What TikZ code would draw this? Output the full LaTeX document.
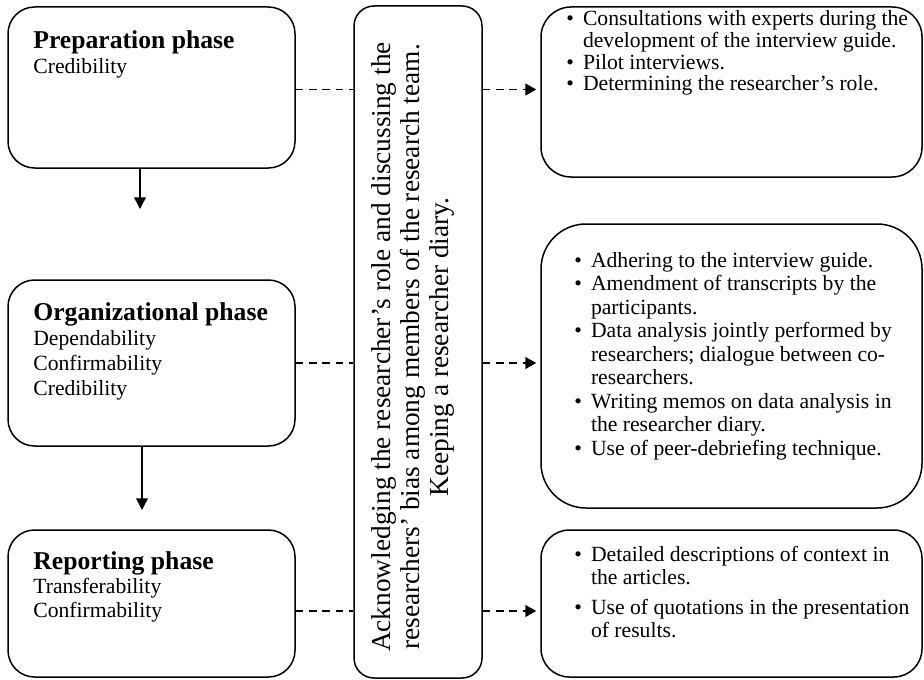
\documentclass[tikz,border=0pt]{standalone}
\usepackage{fontspec}
\setmainfont{Liberation Serif}
\usetikzlibrary{positioning,arrows.meta}

\newcommand{\itm}{\makebox[10pt][l]{\textbullet}}
\newcommand{\cnt}{\hspace*{10pt}}

\begin{document}
\begin{tikzpicture}[x=0.6pt, y=-0.6pt,
  box/.style={draw, line width=0.9pt, rounded corners=#1, inner sep=0},
  box/.default=16pt,
  link/.style={line width=1.1pt, dash pattern=on 4.5pt off 3.5pt},
  txt/.style={anchor=north west, align=left, inner sep=0, font=\fontsize{13}{14}\selectfont}]

  % Define unit
  \def\px{0.6pt}

  \useasboundingbox (0,0) rectangle (924,679);

  % Phase boxes
  \node[box, minimum width=287*\px, minimum height=161*\px] (prep) at (151.5,87.5) {};
  \node[box, minimum width=287*\px, minimum height=166*\px] (org) at (151.5,363) {};
  \node[box, minimum width=287*\px, minimum height=147*\px] (rep) at (151.5,603.5) {};

  \node[txt, font=\fontsize{13}{15}\selectfont] (prepTxt) at (33,30) {{\fontsize{15.4}{15}\selectfont\bfseries Preparation phase}\\Credibility};
  \node[txt, font=\fontsize{13}{15}\selectfont] (orgTxt) at (33,302) {{\fontsize{15.4}{15}\selectfont\bfseries Organizational phase}\\Dependability\\Confirmability\\Credibility};
  \node[txt, font=\fontsize{13}{14.5}\selectfont] (repTxt) at (33,551) {{\fontsize{15.4}{15}\selectfont\bfseries Reporting phase}\\Transferability\\Confirmability};

  % Middle box
  \node[box=12pt, minimum width=128*\px, minimum height=672*\px] (ack) at (418,342) {};
  \node[rotate=90, align=center, inner sep=0, font=\fontsize{16.4}{17.2}\selectfont] (ackTxt) at (413,347)
    {Acknowledging the researcher's role and discussing the\\
     researchers' bias among members of the research team.\\
     Keeping a researcher diary.};

  % Strategy boxes
  \node[box=18pt, minimum width=381*\px, minimum height=170*\px] (prepList) at (731.5,92) {};
  \node[box=27pt, minimum width=381*\px, minimum height=284*\px] (orgList) at (731.5,366) {};
  \node[box=17pt, minimum width=381*\px, minimum height=147*\px] (repList) at (731.5,603.5) {};

  \node[txt, font=\fontsize{13}{13.1}\selectfont] (prepItems) at (566,10)
    {\itm Consultations with experts during the\\
     \cnt development of the interview guide.\\
     \itm Pilot interviews.\\
     \itm Determining the researcher's role.};
  \node[txt, font=\fontsize{13}{14.1}\selectfont] (orgItems) at (574,252)
    {\itm Adhering to the interview guide.\\
     \itm Amendment of transcripts by the\\
     \cnt participants.\\
     \itm Data analysis jointly performed by\\
     \cnt researchers; dialogue between co-\\
     \cnt researchers.\\
     \itm Writing memos on data analysis in\\
     \cnt the researcher diary.\\
     \itm Use of peer-debriefing technique.};
  \node[txt, font=\fontsize{13}{13.8}\selectfont] (repItems) at (574,546)
    {\itm Detailed descriptions of context in\\
     \cnt the articles.\\[4pt]
     \itm Use of quotations in the presentation\\
     \cnt of results.};

  % Flow arrows
  \coordinate (prepEnd) at (140,209);
  \coordinate (orgEnd) at (142,510);
  \draw[line width=0.9pt, -{Triangle[width=7pt,length=7pt]}] (prep.south -| prepEnd) -- (prepEnd);
  \draw[line width=0.9pt, -{Triangle[width=7pt,length=7pt]}] (org.south -| orgEnd) -- (orgEnd);

  % Dashed links
  \coordinate (prepLink) at ([yshift=-1.2pt]prep.east);
  \coordinate (repLink) at ([yshift=-4.5pt]rep.east);
  \draw[link] (prepLink) -- (prepLink -| ack.west);
  \draw[link] (org.east) -- (org.east -| ack.west);
  \draw[link] (repLink) -- (repLink -| ack.west);

  \draw[link, -{Triangle[width=7pt,length=6.5pt]}, shorten >=2.4pt] (prepLink -| ack.east) -- (prepLink -| prepList.west);
  \draw[link, -{Triangle[width=7pt,length=6.5pt]}, shorten >=2.4pt] (org.east -| ack.east) -- (org.east -| orgList.west);
  \draw[link, -{Triangle[width=7pt,length=6.5pt]}, shorten >=2.4pt] (repLink -| ack.east) -- (repLink -| repList.west);

\end{tikzpicture}
\end{document}
